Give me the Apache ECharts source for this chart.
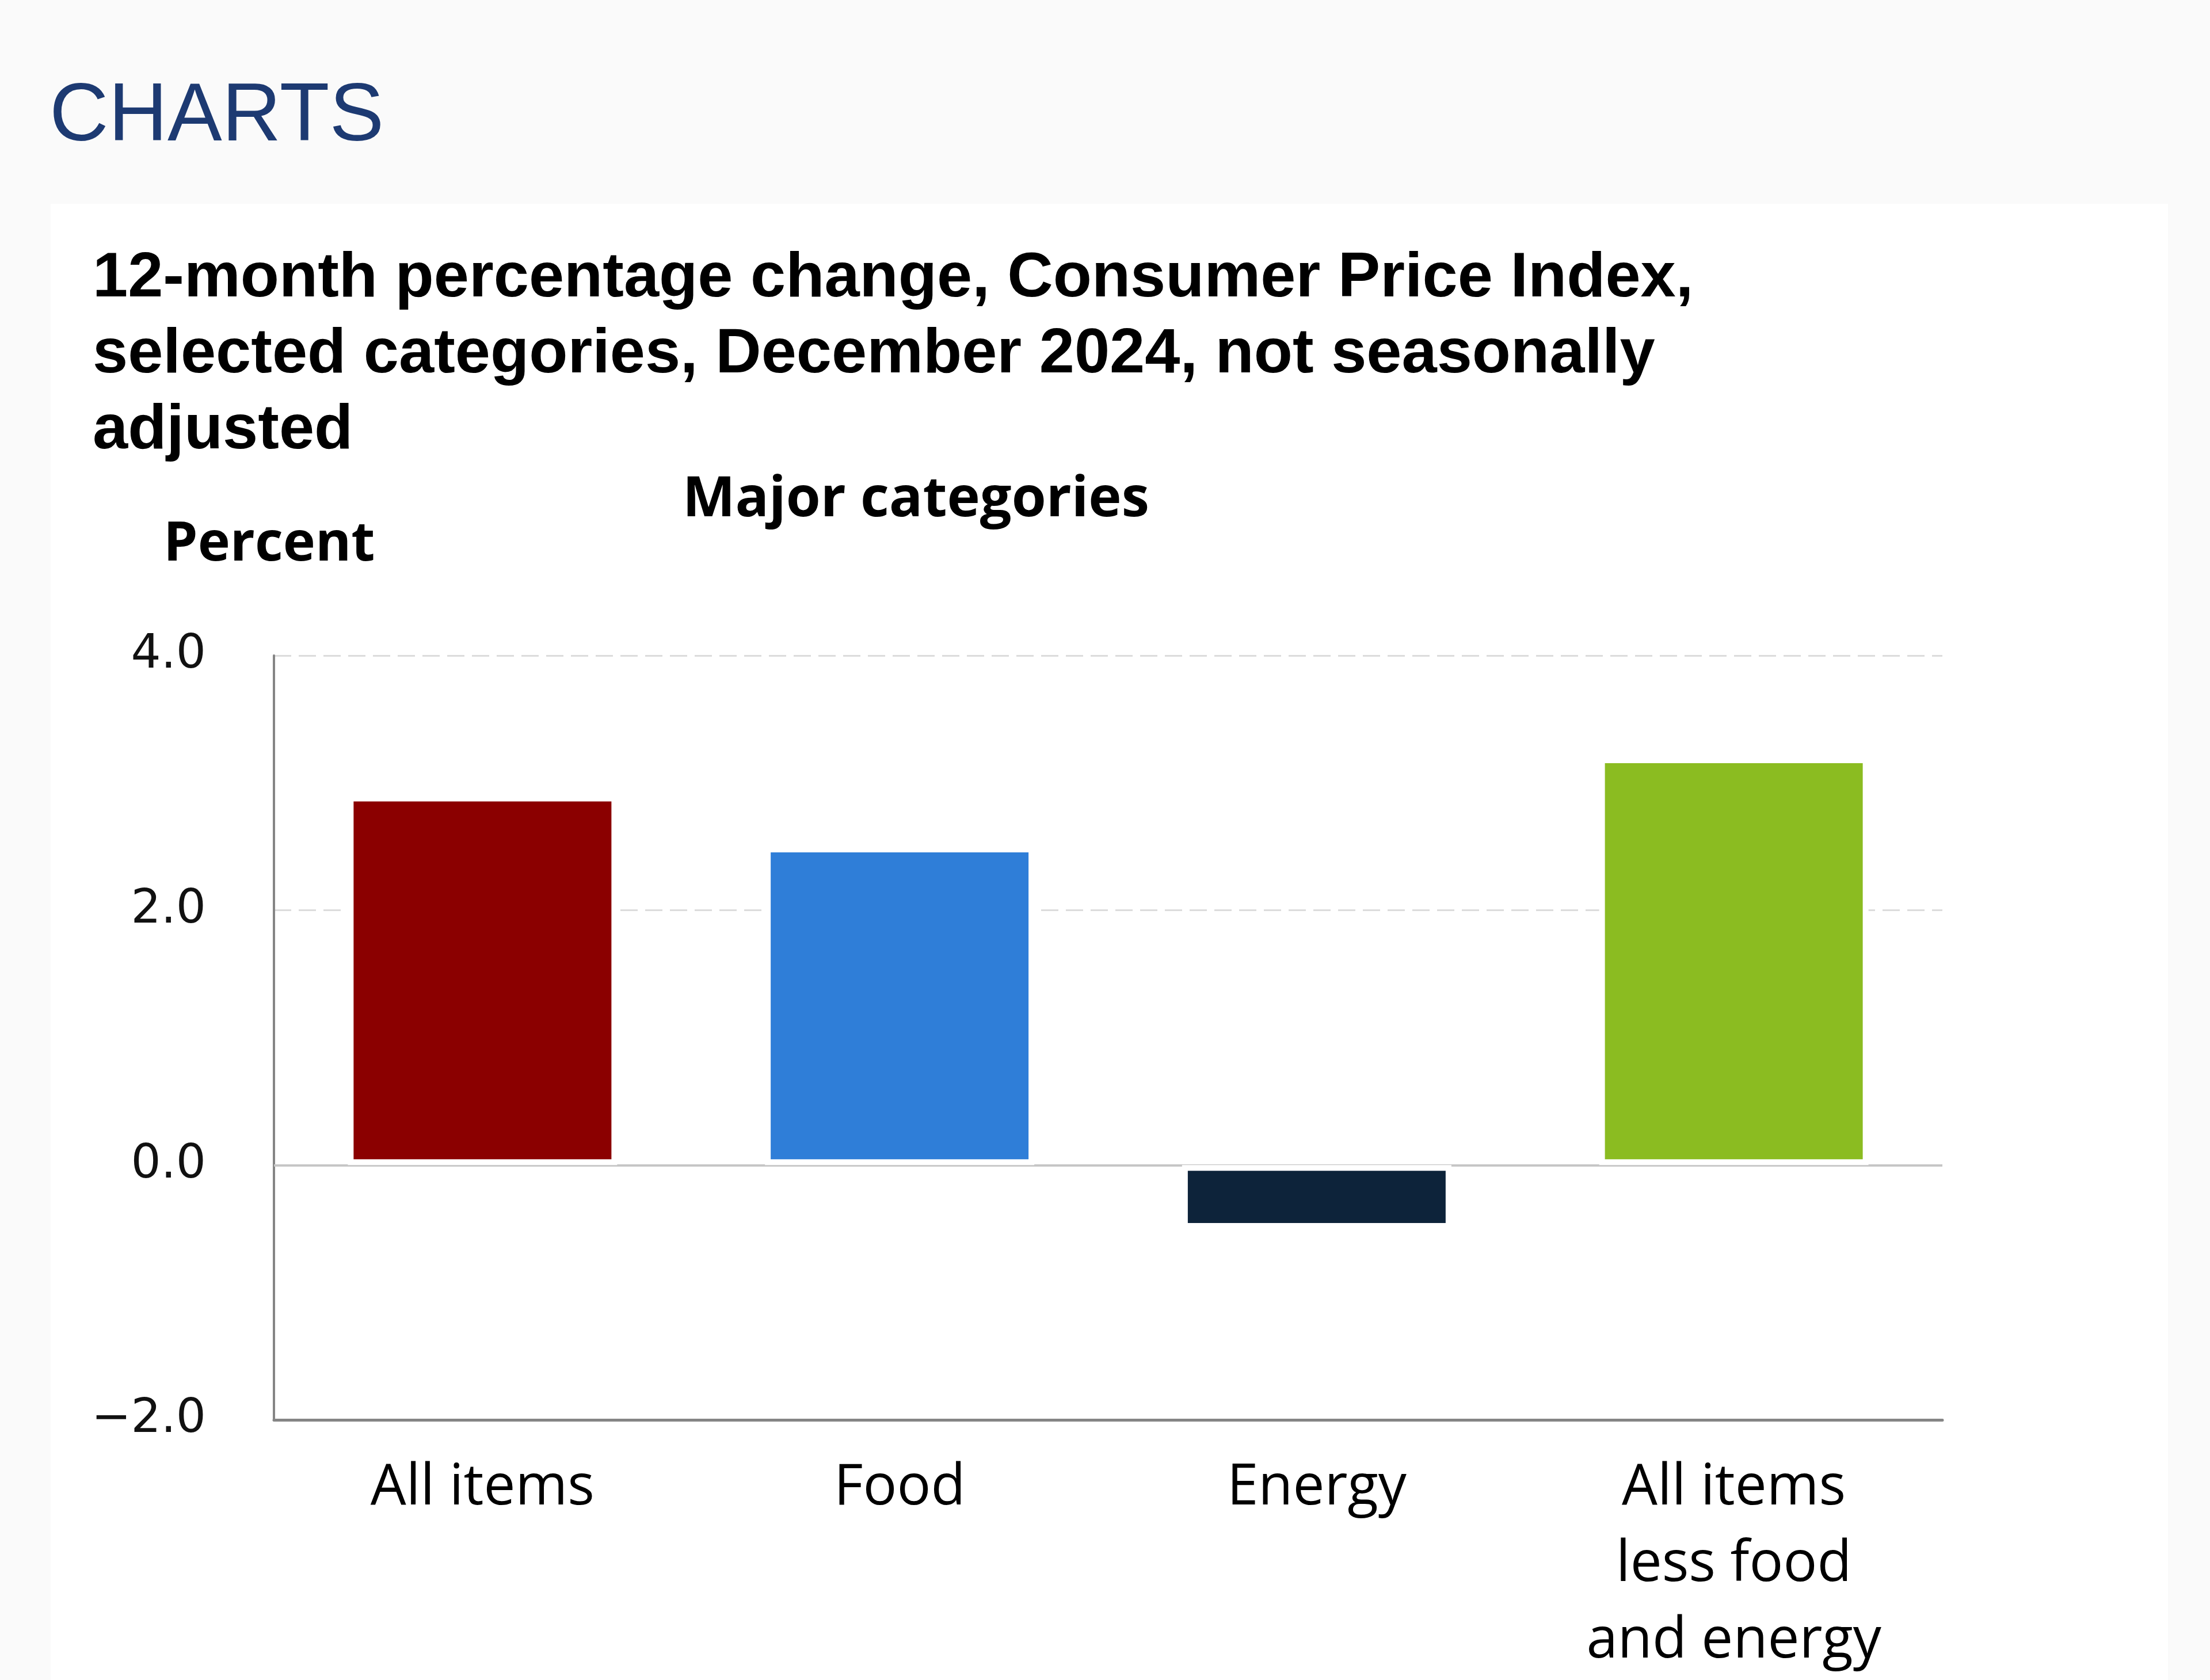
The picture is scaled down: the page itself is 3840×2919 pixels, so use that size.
<!DOCTYPE html>
<html>
<head>
<meta charset="utf-8">
<script src="https://cdn.jsdelivr.net/npm/echarts@6/dist/echarts.min.js"></script>
<style>
  html, body { margin: 0; padding: 0; background: #fafafa; overflow: hidden; }
  #chart { width: 3840px; height: 2919px; }
</style>
</head>
<body>
<div id="chart"></div>
<script>
// ---- Data ----
const categories = ['All items', 'Food', 'Energy', 'All items\nless food\nand energy'];
const values = [2.9, 2.5, -0.5, 3.2];
const barColors = ['#8b0000', '#2f7ed8', '#0d233a', '#8bbc21'];
const yTicks = { min: -2, max: 4, interval: 2 };
const pageHeading = 'CHARTS';
const chartTitle = '12-month percentage change, Consumer Price Index,\nselected categories, December 2024, not seasonally\nadjusted';
const subTitle = 'Major categories';
const yAxisTitle = 'Percent';

// ---- Chart ----
const chart = echarts.init(document.getElementById('chart'), null, { renderer: 'canvas' });

const barData = values.map((v, i) => ({
  value: v,
  itemStyle: { color: barColors[i] }
}));

const option = {
  backgroundColor: '#fafafa',
  animation: false,
  graphic: [
    {
      type: 'rect',
      z: -100,
      silent: true,
      shape: { x: 88, y: 354, width: 3679, height: 2700 },
      style: { fill: '#ffffff' }
    }
  ],
  title: [
    {
      text: pageHeading,
      left: 86, top: 120, padding: 0,
      textStyle: { fontFamily: 'Liberation Sans, Arial, sans-serif', fontWeight: 'normal', fontSize: 142, lineHeight: 170, color: '#1d3a72' }
    },
    {
      text: chartTitle,
      left: 161, top: 419, padding: 0,
      textStyle: { fontFamily: 'Liberation Sans, Arial, sans-serif', fontWeight: 'bold', fontSize: 110, lineHeight: 132, color: '#000000' }
    },
    {
      text: subTitle,
      left: 1186, top: 809, padding: 0,
      textStyle: { fontFamily: 'Open Sans, sans-serif', fontWeight: 'bold', fontSize: 97, lineHeight: 120, color: '#000000' }
    },
    {
      text: yAxisTitle,
      left: 284, top: 887, padding: 0,
      textStyle: { fontFamily: 'Open Sans, sans-serif', fontWeight: 'bold', fontSize: 95, lineHeight: 120, color: '#000000' }
    }
  ],
  grid: { left: 476, right: 465, top: 1139, bottom: 436, containLabel: false },
  xAxis: {
    type: 'category',
    data: categories,
    axisLine: { show: true, onZero: false, lineStyle: { color: '#858585', width: 5 } },
    axisTick: { show: false },
    splitLine: { show: false },
    axisLabel: {
      interval: 0,
      margin: 53,
      fontFamily: 'Open Sans, sans-serif',
      fontSize: 98,
      lineHeight: 133,
      color: '#000000'
    }
  },
  yAxis: {
    type: 'value',
    min: yTicks.min,
    max: yTicks.max,
    interval: yTicks.interval,
    axisLine: { show: true, lineStyle: { color: '#858585', width: 4 } },
    axisTick: { show: false },
    splitLine: { show: true, lineStyle: { color: '#dcdcdc', width: 3, type: [30, 13] } },
    axisLabel: {
      margin: 118,
      fontFamily: 'DejaVu Sans, Verdana, sans-serif',
      fontSize: 82,
      color: '#111111',
      formatter: function (v) {
        return (v < 0 ? '\u2212' : '') + Math.abs(v).toFixed(1);
      }
    }
  },
  series: [
    {
      type: 'line',
      data: [],
      z: 1,
      silent: true,
      markLine: {
        silent: true,
        symbol: 'none',
        label: { show: false },
        lineStyle: { color: '#c6c6c6', width: 4, type: 'solid' },
        data: [{ yAxis: 0 }]
      }
    },
    {
      type: 'bar',
      z: 5,
      data: barData,
      barWidth: 468,
      itemStyle: { borderColor: '#ffffff', borderWidth: 10 }
    }
  ]
};

chart.setOption(option);
</script>
</body>
</html>
